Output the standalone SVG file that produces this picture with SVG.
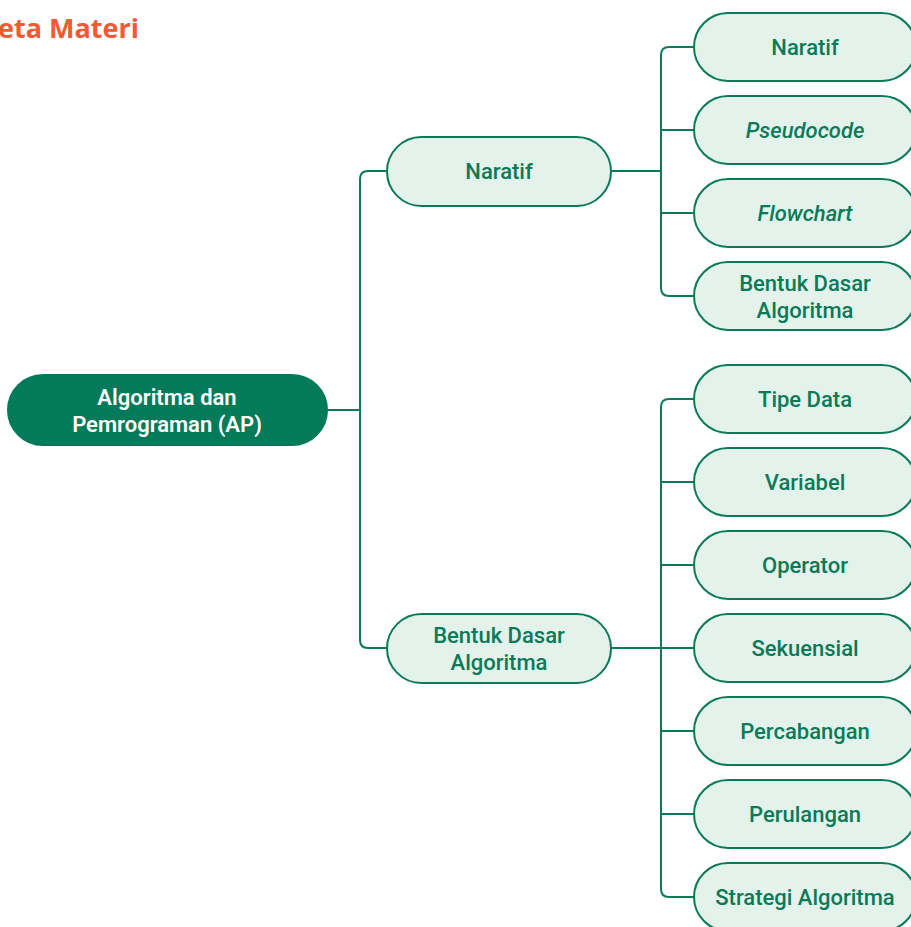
<svg xmlns="http://www.w3.org/2000/svg" width="911" height="927" viewBox="0 0 911 927">
  <style>
    .title { font-family: "Open Sans", "Liberation Sans", sans-serif; font-weight: 700; font-size: 27px; fill: #f15a32; }
    .box { fill: #e3f2ea; stroke: #0a7a58; stroke-width: 2; }
    .root { fill: #037a59; stroke: #037a59; stroke-width: 2; }
    .lbl { font-family: Roboto, "Liberation Sans", sans-serif; font-weight: 500; font-size: 22px; fill: #0a7a58; text-anchor: middle; }
    .lbl-w { font-family: Roboto, "Liberation Sans", sans-serif; font-weight: 600; font-size: 22px; fill: #ffffff; text-anchor: middle; }
    .it { font-style: italic; }
    .wire { fill: none; stroke: #0a7a58; stroke-width: 2; }
  </style>

  <text class="title" x="139" y="38" text-anchor="end">Peta Materi</text>

  <!-- connectors -->
  <g id="connectors">
    <path class="wire" d="M327 410 H360"/>
    <path class="wire" d="M387 171 H368 Q360 171 360 179 V640 Q360 648 368 648 H387"/>
    <path class="wire" d="M611 171 H661"/>
    <path class="wire" d="M694 47 H669 Q661 47 661 55 V288 Q661 296 669 296 H694"/>
    <path class="wire" d="M661 130 H694 M661 213 H694"/>
    <path class="wire" d="M611 648 H694"/>
    <path class="wire" d="M694 399 H669 Q661 399 661 407 V889 Q661 897 669 897 H694"/>
    <path class="wire" d="M661 482 H694 M661 565 H694 M661 731 H694 M661 814 H694"/>
  </g>

  <!-- root -->
  <g id="node-root">
    <rect class="root" x="8" y="375" width="319" height="70" rx="35"/>
    <text class="lbl-w" x="167" y="405">Algoritma dan</text>
    <text class="lbl-w" x="167" y="432">Pemrograman (AP)</text>
  </g>

  <!-- second level -->
  <g id="node-naratif">
    <rect class="box" x="387" y="137" width="224" height="69" rx="34.5"/>
    <text class="lbl" x="499" y="179">Naratif</text>
  </g>
  <g id="node-bentuk">
    <rect class="box" x="387" y="614" width="224" height="69" rx="34.5"/>
    <text class="lbl" x="499" y="643">Bentuk Dasar</text>
    <text class="lbl" x="499" y="670">Algoritma</text>
  </g>

  <!-- leaves under Naratif -->
  <g id="leaf-naratif">
    <rect class="box" x="694" y="13" width="222" height="68" rx="34"/>
    <text class="lbl" x="805" y="55">Naratif</text>
  </g>
  <g id="leaf-pseudocode">
    <rect class="box" x="694" y="96" width="222" height="68" rx="34"/>
    <text class="lbl it" x="805" y="138">Pseudocode</text>
  </g>
  <g id="leaf-flowchart">
    <rect class="box" x="694" y="179" width="222" height="68" rx="34"/>
    <text class="lbl it" x="805" y="221">Flowchart</text>
  </g>
  <g id="leaf-bentuk">
    <rect class="box" x="694" y="262" width="222" height="68" rx="34"/>
    <text class="lbl" x="805" y="291">Bentuk Dasar</text>
    <text class="lbl" x="805" y="318">Algoritma</text>
  </g>

  <!-- leaves under Bentuk Dasar Algoritma -->
  <g id="leaf-tipe">
    <rect class="box" x="694" y="365" width="222" height="68" rx="34"/>
    <text class="lbl" x="805" y="407">Tipe Data</text>
  </g>
  <g id="leaf-variabel">
    <rect class="box" x="694" y="448" width="222" height="68" rx="34"/>
    <text class="lbl" x="805" y="490">Variabel</text>
  </g>
  <g id="leaf-operator">
    <rect class="box" x="694" y="531" width="222" height="68" rx="34"/>
    <text class="lbl" x="805" y="573">Operator</text>
  </g>
  <g id="leaf-sekuensial">
    <rect class="box" x="694" y="614" width="222" height="68" rx="34"/>
    <text class="lbl" x="805" y="656">Sekuensial</text>
  </g>
  <g id="leaf-percabangan">
    <rect class="box" x="694" y="697" width="222" height="68" rx="34"/>
    <text class="lbl" x="805" y="739">Percabangan</text>
  </g>
  <g id="leaf-perulangan">
    <rect class="box" x="694" y="780" width="222" height="68" rx="34"/>
    <text class="lbl" x="805" y="822">Perulangan</text>
  </g>
  <g id="leaf-strategi">
    <rect class="box" x="694" y="863" width="222" height="68" rx="34"/>
    <text class="lbl" x="805" y="905">Strategi Algoritma</text>
  </g>
</svg>
